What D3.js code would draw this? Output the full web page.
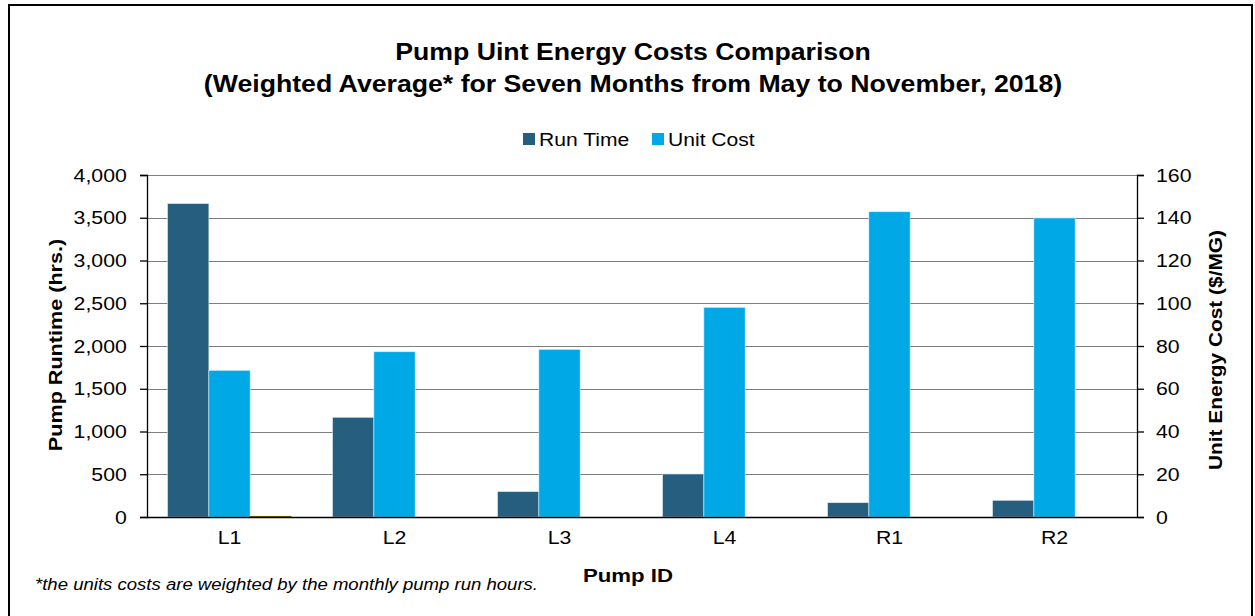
<!DOCTYPE html>
<html>
<head>
<meta charset="utf-8">
<script src="https://cdn.jsdelivr.net/npm/d3@7"></script>
<style>
  body { margin: 0; background: #fff; }
  text { font-family: "Liberation Sans", Arial, sans-serif; fill: #000; }
</style>
</head>
<body>
<div id="chart"></div>
<script>
// chart values
var pumps = ["L1", "L2", "L3", "L4", "R1", "R2"];
var runTime = [3665, 1166, 296, 503, 167, 195];      // hrs, left axis
var unitCost = [68.6, 77.3, 78.4, 98.1, 142.8, 139.9]; // $/MG, right axis
var thirdSeries = [0.5, 0, 0, 0, 0, 0];               // tiny unlabeled series
var leftTicks = [0, 500, 1000, 1500, 2000, 2500, 3000, 3500, 4000];
var rightTicks = [0, 20, 40, 60, 80, 100, 120, 140, 160];

var svgWidth = 1255;
var svgHeight = 616;

var margin = { top: 175, right: 118, bottom: 99, left: 147 };
var chartWidth = svgWidth - margin.left - margin.right;
var chartHeight = svgHeight - margin.top - margin.bottom;

// the original's lettering is a bit wider than Arial
var stretch = 1.16;
var tickStretch = 1.12;

var svg = d3.select("#chart")
  .append("svg")
  .attr("width", svgWidth)
  .attr("height", svgHeight);

// outer border
svg.append("rect")
  .attr("x", 9).attr("y", 5)
  .attr("width", 1243).attr("height", 640)
  .attr("fill", "none")
  .attr("stroke", "#000")
  .attr("stroke-width", 2);

var chartGroup = svg.append("g")
  .attr("transform", `translate(${margin.left}, ${margin.top})`);

var x0 = d3.scaleBand().domain(pumps).range([0, chartWidth]).paddingInner(0.25).paddingOuter(0.125);
var x1 = d3.scaleBand().domain(["run", "cost", "third"]).range([0, x0.bandwidth()]);
var yLeft = d3.scaleLinear().domain([0, 4000]).range([chartHeight, 0]);
var yRight = d3.scaleLinear().domain([0, 160]).range([chartHeight, 0]);

// gridlines
chartGroup.append("g")
  .selectAll("line")
  .data(leftTicks.slice(1))
  .enter()
  .append("line")
  .attr("x1", 0).attr("x2", chartWidth)
  .attr("y1", d => Math.round(yLeft(d)) + 0.5)
  .attr("y2", d => Math.round(yLeft(d)) + 0.5)
  .attr("stroke", "#7f7f7f")
  .attr("stroke-width", 1.2);

// bars
var groups = chartGroup.selectAll(".grp")
  .data(pumps)
  .enter()
  .append("g")
  .attr("transform", d => `translate(${x0(d)},0)`);

groups.append("rect")
  .attr("x", x1("run"))
  .attr("width", x1.bandwidth())
  .attr("y", (d, i) => yLeft(runTime[i]))
  .attr("height", (d, i) => chartHeight - yLeft(runTime[i]))
  .attr("fill", "#255e7f")
  .attr("stroke", "#d7e3ea").attr("stroke-width", 0.6);

groups.append("rect")
  .attr("x", x1("cost"))
  .attr("width", x1.bandwidth())
  .attr("y", (d, i) => yRight(unitCost[i]))
  .attr("height", (d, i) => chartHeight - yRight(unitCost[i]))
  .attr("fill", "#00a9e6")
  .attr("stroke", "#d0eefa").attr("stroke-width", 0.6);

groups.append("rect")
  .attr("x", x1("third"))
  .attr("width", x1.bandwidth())
  .attr("y", (d, i) => yRight(thirdSeries[i]))
  .attr("height", (d, i) => chartHeight - yRight(thirdSeries[i]))
  .attr("fill", "#7f6000");

// axes
var leftAxis = d3.axisLeft(yLeft).tickValues(leftTicks).tickFormat(d3.format(",")).tickSize(7).tickPadding(11);
var rightAxis = d3.axisRight(yRight).tickValues(rightTicks).tickSize(7).tickPadding(10);
var bottomAxis = d3.axisBottom(x0).tickSize(0).tickPadding(14);

function styleAxis(g) {
  g.select(".domain").attr("stroke", "#000").attr("stroke-width", 1.3);
  g.selectAll(".tick line").attr("stroke", "#000").attr("stroke-width", 1.3);
  g.selectAll("text")
    .attr("font-size", 19).attr("fill", "#000")
    .attr("transform", `scale(${tickStretch},1)`)
    .style("font-family", "Liberation Sans, Arial, sans-serif");
}

chartGroup.append("g").call(leftAxis).call(styleAxis);
chartGroup.append("g").attr("transform", `translate(${chartWidth},0)`).call(rightAxis).call(styleAxis);
chartGroup.append("g").attr("transform", `translate(0,${chartHeight})`).call(bottomAxis).call(styleAxis)
  .select(".domain").attr("d", `M0,0.5H${chartWidth}`);

// helper for stretched text
function label(x, y, str, opts) {
  var rot = opts.rotate ? " rotate(-90)" : "";
  return svg.append("text")
    .attr("transform", `translate(${x},${y})${rot} scale(${opts.sx || stretch},1)`)
    .attr("text-anchor", opts.anchor || "start")
    .attr("font-size", opts.size)
    .attr("font-weight", opts.bold ? "bold" : null)
    .attr("font-style", opts.italic ? "italic" : null)
    .text(str);
}

// titles
label(633, 60, "Pump Uint Energy Costs Comparison", { size: 23, bold: true, anchor: "middle" });
label(633, 92, "(Weighted Average* for Seven Months from May to November, 2018)", { size: 23, bold: true, anchor: "middle" });

// legend
var legendItems = [
  { name: "Run Time", color: "#255e7f", x: 523 },
  { name: "Unit Cost", color: "#00a9e6", x: 652 }
];
legendItems.forEach(function(d) {
  svg.append("rect")
    .attr("x", d.x).attr("y", 133)
    .attr("width", 12).attr("height", 12)
    .attr("fill", d.color);
  label(d.x + 16, 146, d.name, { size: 19, sx: 1.11 });
});

// axis titles
label(62, 345, "Pump Runtime (hrs.)", { size: 18, bold: true, anchor: "middle", rotate: true, sx: 1.2 });
label(1222, 350, "Unit Energy Cost ($/MG)", { size: 18, bold: true, anchor: "middle", rotate: true });
label(628, 582, "Pump ID", { size: 18.5, bold: true, anchor: "middle", sx: 1.2 });

// footnote
label(35, 590, "*the units costs are weighted by the monthly pump run hours.", { size: 16, italic: true });
</script>
</body>
</html>
